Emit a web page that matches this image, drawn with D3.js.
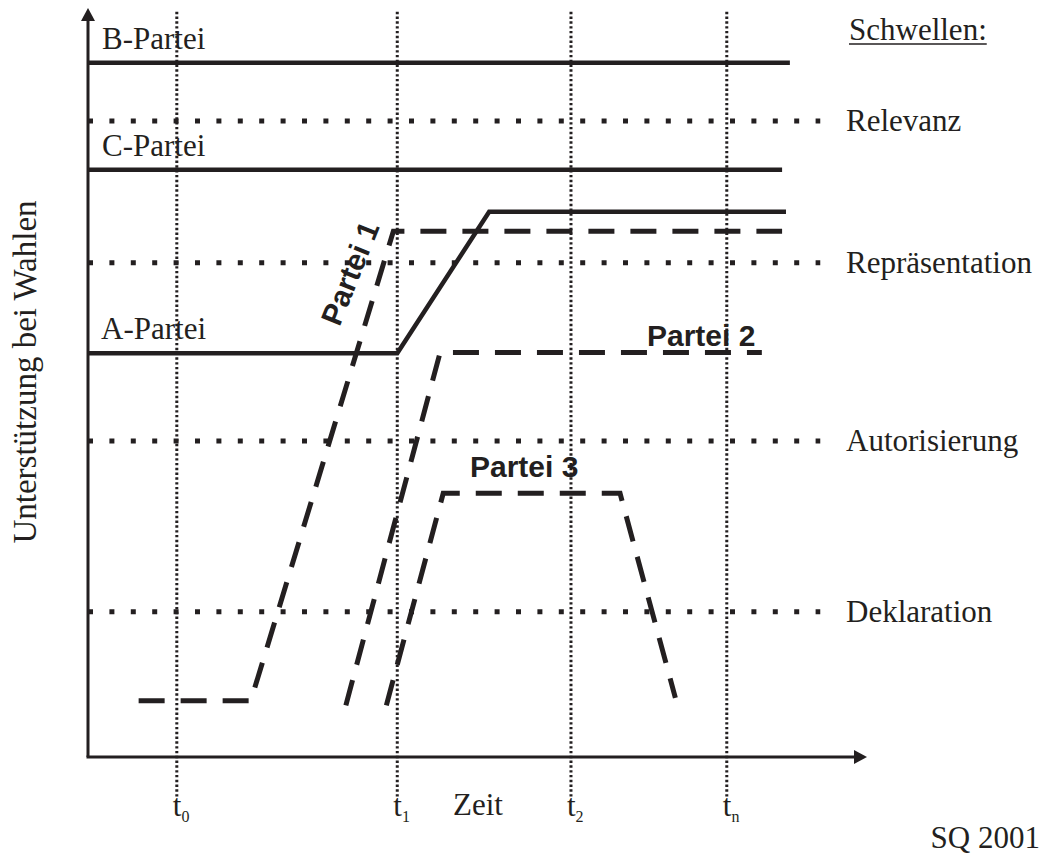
<!DOCTYPE html>
<html>
<head>
<meta charset="utf-8">
<script src="https://cdn.jsdelivr.net/npm/d3@7"></script>
<style>
  html, body { margin: 0; padding: 0; background: #fff; }
  svg { display: block; }
</style>
</head>
<body>
<svg id="chart" width="1044" height="854"></svg>
<script>
// ---- data ----
const timeValues = [11.4, 39.7, 62.0, 82.0];
const timeSubs = ["0", "1", "2", "n"];

const thresholdNames = ["Relevanz", "Repräsentation", "Autorisierung", "Deklaration"];
const thresholdValues = [84.9, 66.0, 42.2, 19.4];
const thresholdEnd = 94.0;

const solidNames = ["B-Partei", "C-Partei"];
const solidValues = [92.7, 78.4];
const solidEnds = [90.1, 89.1];

const aParteiX = [0, 39.7, 51.5, 89.6];
const aParteiY = [53.9, 53.9, 72.8, 72.8];

const partei1X = [6.5, 20.9, 39.2, 89.1];
const partei1Y = [7.5, 7.5, 70.2, 70.2];
const partei2X = [33.1, 45.2, 86.5];
const partei2Y = [6.9, 54.0, 54.0];
const partei3X = [38.3, 45.6, 68.3, 75.4];
const partei3Y = [6.9, 35.2, 35.2, 7.9];

// ---- layout ----
const W = 1044, H = 854;
const INK = "#231f20";
const SERIF = "'Liberation Serif', 'Times New Roman', serif";
const SANS = "'Liberation Sans', Arial, sans-serif";

const svg = d3.select("#chart");
svg.append("rect").attr("width", W).attr("height", H).attr("fill", "#fff");

const x = d3.scaleLinear().domain([0, 100]).range([88, 867]);
const y = d3.scaleLinear().domain([0, 100]).range([757, 8]);

const line = d3.line().x(d => x(d[0])).y(d => y(d[1])).curve(d3.curveLinear);

// vertical dotted time markers
svg.append("g").selectAll("line").data(timeValues).join("line")
  .attr("x1", d => x(d)).attr("x2", d => x(d))
  .attr("y1", y(99.5)).attr("y2", y(0) + 40)
  .attr("stroke", INK).attr("stroke-width", 3)
  .attr("stroke-dasharray", "2.4,2.4");

// horizontal dotted thresholds
svg.append("g").selectAll("line").data(thresholdValues).join("line")
  .attr("x1", x(0)).attr("x2", x(thresholdEnd))
  .attr("y1", d => y(d)).attr("y2", d => y(d))
  .attr("stroke", INK).attr("stroke-width", 5)
  .attr("stroke-dasharray", "5,16.4");

// threshold labels
svg.append("g").selectAll("text").data(thresholdNames).join("text")
  .attr("x", 846).attr("y", (d, i) => y(thresholdValues[i]) + 10)
  .attr("font-family", SERIF).attr("font-size", 31).attr("fill", INK)
  .text(d => d);

// Schwellen header with underline
const sw = svg.append("text").attr("x", 849).attr("y", 40)
  .attr("font-family", SERIF).attr("font-size", 31).attr("fill", INK)
  .text("Schwellen:");
const swLen = sw.node().getComputedTextLength();
svg.append("line").attr("x1", 849).attr("x2", 849 + swLen)
  .attr("y1", 44).attr("y2", 44).attr("stroke", INK).attr("stroke-width", 1.6);

// axes
const axisG = svg.append("g");
axisG.append("line").attr("x1", x(0)).attr("x2", x(0)).attr("y1", y(0)).attr("y2", y(98.5))
  .attr("stroke", INK).attr("stroke-width", 3);
axisG.append("path")
  .attr("d", `M${x(0)},${y(100)} L${x(0) - 7},${y(100) + 13} L${x(0) + 7},${y(100) + 13} Z`)
  .attr("fill", INK);
axisG.append("line").attr("x1", x(0) - 1.5).attr("x2", x(98.5)).attr("y1", y(0)).attr("y2", y(0))
  .attr("stroke", INK).attr("stroke-width", 3);
axisG.append("path")
  .attr("d", `M${x(100)},${y(0)} L${x(100) - 13},${y(0) - 7} L${x(100) - 13},${y(0) + 7} Z`)
  .attr("fill", INK);

// solid party lines B, C
svg.append("g").selectAll("line").data(solidValues).join("line")
  .attr("x1", x(0)).attr("x2", (d, i) => x(solidEnds[i]))
  .attr("y1", d => y(d)).attr("y2", d => y(d))
  .attr("stroke", INK).attr("stroke-width", 4.5);

svg.append("g").selectAll("text").data(solidNames).join("text")
  .attr("x", x(0) + 14).attr("y", (d, i) => y(solidValues[i]) - 14)
  .attr("font-family", SERIF).attr("font-size", 31).attr("fill", INK)
  .text(d => d);

// A-Partei
svg.append("path").datum(d3.zip(aParteiX, aParteiY))
  .attr("d", line).attr("fill", "none")
  .attr("stroke", INK).attr("stroke-width", 4.5).attr("stroke-linejoin", "miter");
svg.append("text").attr("x", x(0) + 13).attr("y", y(aParteiY[0]) - 14)
  .attr("font-family", SERIF).attr("font-size", 31).attr("fill", INK)
  .text("A-Partei");

// dashed new parties
const dashed = [d3.zip(partei1X, partei1Y), d3.zip(partei2X, partei2Y), d3.zip(partei3X, partei3Y)];
svg.append("g").selectAll("path").data(dashed).join("path")
  .attr("d", line).attr("fill", "none")
  .attr("stroke", INK).attr("stroke-width", 5)
  .attr("stroke-dasharray", "26,16").attr("stroke-linejoin", "miter");

// party labels (bold sans)
svg.append("text")
  .attr("transform", "translate(350,273) rotate(-68)")
  .attr("text-anchor", "middle").attr("dy", "0.35em")
  .attr("font-family", SANS).attr("font-weight", "bold").attr("font-size", 30).attr("fill", INK)
  .text("Partei 1");
svg.append("text").attr("x", 647).attr("y", 346)
  .attr("font-family", SANS).attr("font-weight", "bold").attr("font-size", 30).attr("fill", INK)
  .text("Partei 2");
svg.append("text").attr("x", 470).attr("y", 477)
  .attr("font-family", SANS).attr("font-weight", "bold").attr("font-size", 30).attr("fill", INK)
  .text("Partei 3");

// time labels
const tl = svg.append("g").selectAll("text").data(timeValues).join("text")
  .attr("x", d => x(d) - 4).attr("y", 816)
  .attr("font-family", SERIF).attr("font-size", 31).attr("fill", INK);
tl.append("tspan").text("t");
tl.append("tspan").attr("font-size", 16).attr("dy", 6).text((d, i) => timeSubs[i]);

svg.append("text").attr("x", 453).attr("y", 815)
  .attr("font-family", SERIF).attr("font-size", 31).attr("fill", INK)
  .text("Zeit");

// y axis title
svg.append("text")
  .attr("transform", "translate(36,372) rotate(-90)")
  .attr("text-anchor", "middle")
  .attr("font-family", SERIF).attr("font-size", 33).attr("fill", INK)
  .text("Unterstützung bei Wahlen");

// source note
svg.append("text").attr("x", 1040).attr("y", 848).attr("text-anchor", "end")
  .attr("font-family", SERIF).attr("font-size", 31).attr("fill", INK)
  .text("SQ 2001");
</script>
</body>
</html>
